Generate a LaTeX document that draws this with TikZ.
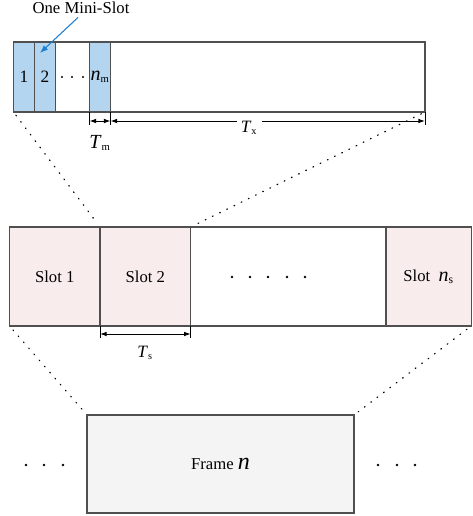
\documentclass[tikz,border=0pt]{standalone}
\usepackage{fontspec}
\setmainfont{Liberation Serif}
\usetikzlibrary{arrows.meta,calc}
\definecolor{miniblue}{HTML}{B3D5F0}
\definecolor{arrowblue}{HTML}{1E7FCF}
\definecolor{slotpink}{HTML}{F8ECEC}
\definecolor{framegray}{HTML}{F4F4F4}
\definecolor{edgegray}{HTML}{505050}
\begin{document}
\begin{tikzpicture}[x=0.75pt,y=-0.75pt,
  font=\fontsize{12.5}{14}\selectfont,
  box/.style={draw=edgegray, line width=0.9pt, inner sep=0pt, outer sep=0pt, anchor=north west},
  minibox/.style={box, fill=miniblue, minimum width=15.75pt, minimum height=52.5pt},
  slotbox/.style={box, minimum height=74.25pt},
  dotline/.style={line width=0.9pt, dash pattern=on 0.6pt off 5.4pt, line cap=round},
  tick/.style={line width=0.7pt, black},
  dim/.style={line width=0.7pt, black, {Latex[length=5pt,width=3.5pt]}-{Latex[length=5pt,width=3.5pt]}},
  dimr/.style={line width=0.7pt, black, -{Latex[length=5pt,width=3.5pt]}},
  lbl/.style={inner sep=1pt}
]
\useasboundingbox (0,0) rectangle (472,516);

% ---------- top strip ----------
\node[box, minimum width=308.6pt, minimum height=52.5pt] (strip) at (13.5,42) {};
\node[minibox, font=\fontsize{13}{14}\selectfont] (ms1) at (13.5,42) {1};
\node[minibox, font=\fontsize{13}{14}\selectfont] (ms2) at (34.5,42) {2};
\node[minibox] (msn) at (89.5,42) {\fontsize{15}{16}\selectfont\textit{n}\fontsize{12}{14}\selectfont\textsubscript{m}};
\foreach \x in {62,72,83} \fill (\x,77) circle (0.8pt);

\node[lbl] (onemini) at (81,8) {One Mini-Slot};
\coordinate (msarrow) at ($(ms2.north west)+(5.5,11)$);
\draw[arrowblue, line width=0.8pt, -{Latex[length=6pt,width=4.5pt]}] ($(onemini.south)+(-3,2)$) -- (msarrow);

% dimension Tm
\coordinate (tmA) at ($(msn.south west)+(0,13)$);
\coordinate (tmB) at ($(msn.south east)+(0,13)$);
\draw[tick] (msn.south west) -- (tmA);
\draw[tick] (msn.south east) -- (tmB);
\draw[dim] ($(msn.south west)+(0,9)$) -- ($(msn.south east)+(0,9)$);
\node[lbl, font=\fontsize{15}{16}\selectfont] (tm) at (100,143) {\textit{T}\fontsize{12}{14}\selectfont\textsubscript{m}};

% dimension Tx
\coordinate (txA) at ($(msn.south east)+(0,9)$);
\coordinate (txB) at ($(strip.south east)+(0,9)$);
\coordinate (txC) at ($(strip.south east)+(0,13)$);
\draw[tick] (strip.south east) -- (txC);
\node[lbl, font=\fontsize{13}{14}\selectfont, inner sep=3pt] (tx) at (249,128) {\textit{T}\fontsize{11}{12}\selectfont\textsubscript{x}};
\draw[dimr] (tx.west |- txA) -- (txA);
\draw[dimr] (tx.east |- txB) -- (txB);

% ---------- middle strip ----------
\node[slotbox, fill=slotpink, minimum width=67.9pt] (slot1) at (9.5,227) {Slot 1};
\node[slotbox, fill=slotpink, minimum width=68.0pt] (slot2) at (100,227) {Slot 2};
\node[slotbox, fill=white, minimum width=146.5pt] (gap) at (190.7,227) {};
\node[slotbox, fill=slotpink, minimum width=63.9pt] (slotn) at (386,227) {Slot\ \ {\fontsize{15}{16}\selectfont\textit{n}}\textsubscript{s}};
\foreach \x in {232,250,268,287,305} \fill (\x,277) circle (1.0pt);

% dimension Ts
\coordinate (tsA) at ($(slot2.south west)+(0,12)$);
\coordinate (tsB) at ($(slot2.south east)+(0,12)$);
\draw[tick] (slot2.south west) -- (tsA);
\draw[tick] (slot2.south east) -- (tsB);
\draw[dim] ($(slot2.south west)+(0,8)$) -- ($(slot2.south east)+(0,8)$);
\node[lbl, font=\fontsize{13}{14}\selectfont] (ts) at (145,353) {\textit{T}\fontsize{11}{12}\selectfont\textsubscript{s}};

% ---------- frame ----------
\node[box, fill=framegray, minimum width=200.25pt, minimum height=73.5pt] (frame) at (87,415) {Frame {\fontsize{18}{18}\selectfont\textit{n}}};
\foreach \x in {26,44,63,378,397,415} \fill (\x,465) circle (1.0pt);

% ---------- zoom lines ----------
\draw[dotline, shorten <=3pt, shorten >=3pt] (strip.south west) -- (slot2.north west);
\draw[dotline, shorten <=3pt, shorten >=3pt] (strip.south east) -- (gap.north west);
\draw[dotline, shorten <=4pt, shorten >=4pt] (slot1.south west) -- (frame.north west);
\draw[dotline, shorten <=4pt, shorten >=4pt] (slotn.south east) -- (frame.north east);
\end{tikzpicture}
\end{document}
